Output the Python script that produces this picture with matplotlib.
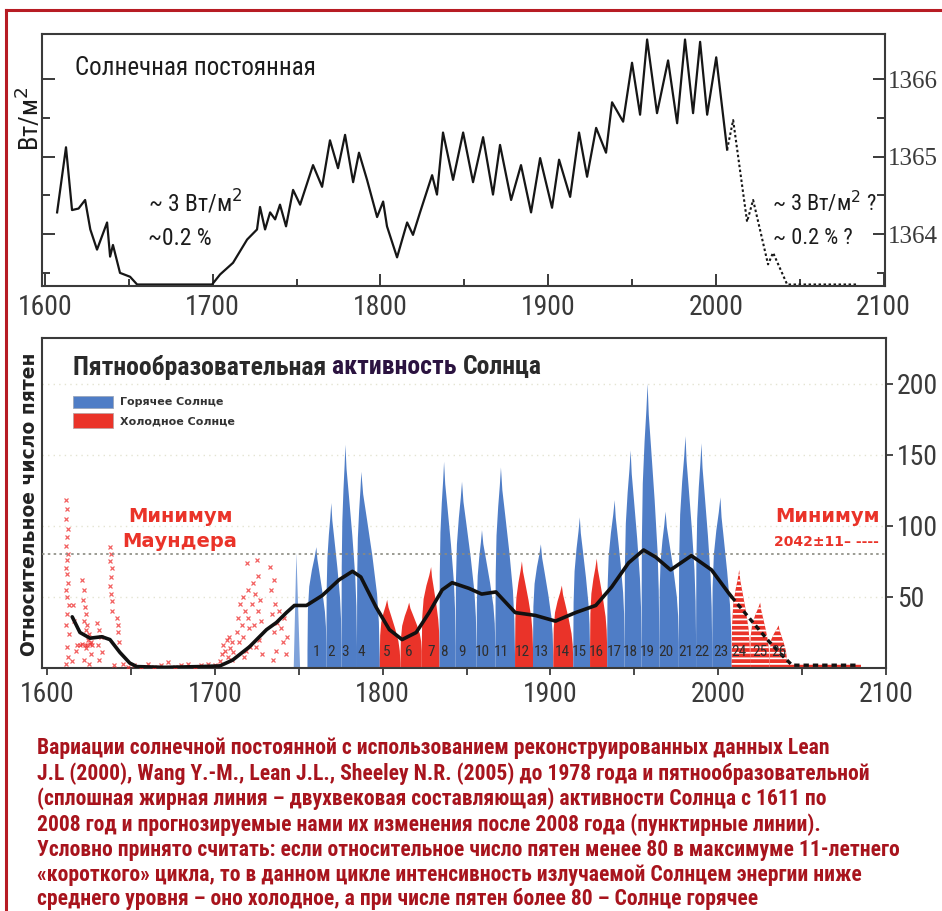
import matplotlib
matplotlib.use('Agg')
import matplotlib.pyplot as plt
import numpy as np
from matplotlib.lines import Line2D
from matplotlib.patches import Polygon, Rectangle

NARROW = ['Liberation Sans Narrow', 'Roboto Condensed', 'DejaVu Sans Condensed', 'Roboto',
          'DejaVu Sans']
SERIF = ['Liberation Serif', 'DejaVu Serif']
WIDE = ['DejaVu Sans']
plt.rcParams['font.family'] = NARROW
plt.rcParams['hatch.linewidth'] = 1.3

# --- solar constant (TSI reconstruction), W/m2 ---
tsi_years = [1607.2, 1612.5, 1616.1, 1620.0, 1623.9, 1627.0, 1631.0, 1637.0, 1638.8, 1640.5,
             1644.7, 1650.7, 1654.9, 1699.6, 1704.4, 1712.1, 1720.5, 1726.4, 1728.2, 1731.2,
             1734.2, 1737.2, 1740.1, 1743.7, 1747.9, 1752.1, 1759.8, 1765.2, 1769.9, 1774.7,
             1778.9, 1783.7, 1787.2, 1792.0, 1798.0, 1801.6, 1803.9, 1809.9, 1815.9, 1819.4,
             1823.6, 1830.8, 1833.7, 1837.3, 1843.3, 1849.3, 1855.2, 1861.2, 1867.1, 1871.3,
             1877.9, 1883.8, 1889.8, 1895.2, 1902.3, 1906.5, 1913.1, 1918.4, 1923.2, 1928.6,
             1934.5, 1938.1, 1944.7, 1950.0, 1954.8, 1959.0, 1964.9, 1971.5, 1976.9, 1981.6,
             1986.4, 1990.6, 1994.8, 2000.2, 2006.7]
tsi_vals = [1364.28, 1365.12, 1364.31, 1364.33, 1364.44, 1364.06, 1363.80, 1364.15, 1363.71, 1363.86,
            1363.50, 1363.45, 1363.35, 1363.35, 1363.48, 1363.63, 1363.93, 1364.06, 1364.35, 1364.06,
            1364.28, 1364.19, 1364.38, 1364.10, 1364.57, 1364.38, 1364.89, 1364.61, 1365.21, 1364.85,
            1365.28, 1364.67, 1365.05, 1364.70, 1364.22, 1364.42, 1364.10, 1363.70, 1364.15, 1363.99,
            1364.28, 1364.76, 1364.51, 1365.31, 1364.70, 1365.31, 1364.67, 1365.25, 1364.51, 1365.15,
            1364.44, 1364.89, 1364.28, 1364.98, 1364.34, 1364.96, 1364.48, 1365.31, 1364.74, 1365.37,
            1365.05, 1365.70, 1365.45, 1366.21, 1365.54, 1366.51, 1365.56, 1366.24, 1365.43, 1366.51,
            1365.56, 1366.48, 1365.54, 1366.28, 1365.09]
tsi_fc_years = [2006.7, 2010.3, 2018.6, 2022.2, 2031.1, 2034.1, 2042.5, 2084.8]
tsi_fc_vals = [1365.09, 1365.47, 1364.16, 1364.44, 1363.61, 1363.76, 1363.35, 1363.35]

# --- sunspot cycles ---
cycle_no = list(range(1, 27))
cycle_start = [1755.2, 1766.5, 1775.5, 1784.7, 1798.3, 1810.6, 1823.3, 1833.9, 1843.5, 1856.0,
               1867.2, 1878.9, 1889.6, 1901.7, 1913.6, 1923.6, 1933.8, 1944.2, 1954.3, 1964.9,
               1976.5, 1986.8, 1996.4, 2008.0, 2019.0, 2030.5]
cycle_end = cycle_start[1:] + [2041.0]
cycle_peak_year = [1760.5, 1769.4, 1777.8, 1787.3, 1802.7, 1815.8, 1828.9, 1836.6, 1847.3, 1859.2,
                   1870.5, 1883.0, 1894.3, 1906.8, 1917.5, 1927.6, 1938.3, 1947.8, 1957.9, 1968.6,
                   1980.5, 1990.0, 2001.3, 2012.5, 2025.0, 2036.0]
cycle_peak = [85, 116, 157, 138, 48, 46, 71, 145, 131, 97,
              141, 75, 87, 58, 106, 77, 118, 153, 200, 110,
              163, 158, 120, 69, 46, 30]
cycle_floor = [12, 15, 14, 15, 6, 3, 12, 14, 15, 12,
               15, 8, 14, 8, 6, 12, 14, 18, 15, 18,
               18, 18, 14, 4, 6, 4]
floor_end = cycle_floor[1:] + [3]
forecast_from = 24          # cycles from 24 on are the forecast
threshold = 80

# isolated peak around 1749
early_spike_year = 1748.6
early_spike_val = 81

# forecast tail of the grand minimum
tail_years = [2040.5, 2085.0]
tail_val = 3

# 11-year filtered curve (bicentennial component)
trend_years = [1615.0, 1619.6, 1625.6, 1632.7, 1637.5, 1643.4, 1649.3, 1653.5, 1670.0, 1691.0,
               1703.0, 1710.6, 1720.7, 1730.8, 1736.7, 1742.7, 1747.4, 1754.6, 1764.0, 1774.0,
               1782.0, 1787.0, 1796.0, 1804.0, 1811.6, 1820.0, 1827.7, 1835.5, 1841.4, 1851.5,
               1859.0, 1867.5, 1879.0, 1891.0, 1903.0, 1915.0, 1927.0, 1936.5, 1946.6, 1955.5,
               1962.7, 1971.6, 1984.0, 1996.0, 2006.0, 2008.0]
trend_vals = [36, 25, 21, 22, 20, 11, 3.5, 1, 0.5, 1,
              1.5, 5.6, 15, 27, 32, 39, 44, 44, 51, 62,
              68, 64, 43, 27, 20, 25, 39, 55, 60, 56,
              52, 53.5, 39, 37, 33, 39, 44, 57, 74, 83,
              78, 69, 79, 69, 53, 50]
trend_fc_years = [2008.0, 2020.0, 2030.0, 2038.0, 2044.0, 2083.0]
trend_fc_vals = [50, 33, 19, 9, 2, 2]

# early telescopic observations (1610-1745)
spot_years = [1611.5, 1612, 1611, 1612.5, 1612, 1611.5, 1612.5, 1612, 1611, 1612, 1612.5, 1611.5,
              1612, 1613, 1612, 1611.5, 1613, 1612, 1612.5, 1611,
              1615.5, 1616, 1617, 1615,
              1621, 1622, 1621.5, 1622.5, 1623, 1622, 1624, 1623, 1625, 1624.5, 1626, 1623.5,
              1626, 1622, 1625,
              1618, 1619.5, 1621, 1622.5, 1624, 1625.5, 1627,
              1630, 1631, 1632, 1630.5, 1632.5, 1631,
              1637.5, 1638, 1637.5, 1638.5, 1638, 1637.5, 1638, 1638.5, 1639,
              1641.5, 1642.5, 1642, 1643,
              1640, 1645, 1648, 1652, 1656, 1660, 1664, 1668, 1672, 1676, 1680, 1684, 1688,
              1692, 1696, 1700,
              1703, 1704, 1705, 1706, 1707, 1708, 1708.5, 1709, 1710, 1710.5, 1711,
              1713, 1714, 1714.5, 1715, 1716, 1716.5, 1717, 1718, 1718.5, 1719, 1719.5, 1720,
              1720.5, 1721, 1717.5,
              1722, 1723, 1723.5, 1724, 1725, 1725.5, 1726, 1726.5, 1727, 1727.5, 1728, 1724.5,
              1733, 1733.5, 1734, 1735, 1735.5, 1736, 1736.5, 1737, 1734.5,
              1738.5, 1739.5, 1740.5, 1741.5, 1742.5, 1743]
spot_vals = [118, 112, 105, 98, 92, 86, 80, 76, 70, 66, 60, 55,
             50, 44, 38, 30, 24, 15, 8, 3,
             44, 33, 12, 5,
             62, 55, 48, 43, 38, 33, 30, 27, 24, 20, 18, 14,
             10, 6, 3,
             16, 16, 17, 16, 16, 17, 16,
             32, 27, 22, 16, 11, 6,
             85, 80, 75, 70, 64, 58, 52, 47, 40,
             35, 30, 25, 18,
             2, 3, 1, 2, 1, 3, 1, 2, 4, 1, 2, 3, 1,
             2, 3, 2,
             5, 10, 16, 12, 20, 8, 22, 14, 18, 6, 11,
             25, 35, 18, 45, 30, 50, 22, 40, 12, 74, 55, 35,
             28, 15, 8,
             45, 60, 30, 52, 76, 40, 65, 20, 48, 33, 10, 15,
             71, 55, 38, 62, 25, 45, 12, 32, 6,
             40, 28, 18, 35, 10, 22]

caption = ("Вариации солнечной постоянной с использованием реконструированных данных Lean\n"
           "J.L (2000), Wang Y.-M., Lean J.L., Sheeley N.R. (2005) до 1978 года и пятнообразовательной\n"
           "(сплошная жирная линия – двухвековая составляющая) активности Солнца с 1611 по\n"
           "2008 год и прогнозируемые нами их изменения после 2008 года (пунктирные линии).\n"
           "Условно принято считать: если относительное число пятен менее 80 в максимуме 11-летнего\n"
           "«короткого» цикла, то в данном цикле интенсивность излучаемой Солнцем энергии ниже\n"
           "среднего уровня – оно холодное, а при числе пятен более 80 – Солнце горячее")

HOT = '#4f7dc6'
COLD = '#ea3329'
SPINE = '#3a3a3a'
CAPTION_RED = '#a8141d'

# outline of one cycle: steep rise, broad body, narrow top, longer decay
RISE_T = [0, 0.05, 0.2, 0.5, 0.8, 1]
RISE_F = [0, 0.4, 0.62, 0.78, 0.9, 1]
FALL_T = [0.1, 0.3, 0.6, 0.85, 0.95, 1]
FALL_F = [0.88, 0.75, 0.55, 0.35, 0.2, 0]


def cycle_outline(i):
    s, p, e = cycle_start[i], cycle_peak_year[i], cycle_end[i]
    pk, m0, m1 = cycle_peak[i], cycle_floor[i], floor_end[i]
    xs = [s] + [s + t * (p - s) for t in RISE_T] + [p + t * (e - p) for t in FALL_T] + [e]
    ys = [0] + [m0 + f * (pk - m0) for f in RISE_F] + [m1 + f * (pk - m1) for f in FALL_F] + [0]
    return np.column_stack([xs, ys])


fig = plt.figure(figsize=(9.42, 9.11), dpi=100)

# red frame
fig.add_artist(Line2D([0.0064, 0.0064], [0, 0.989], color='#b71c24', lw=2.2))
fig.add_artist(Line2D([0.0064, 1.0], [0.989, 0.989], color='#b71c24', lw=2.2))

# ---------------- top panel ----------------
ax1 = fig.add_axes([0.0446, 0.686, 0.895, 0.2766])
ax1.plot(tsi_years, tsi_vals, color='#161616', lw=1.6, solid_joinstyle='round')
ax1.plot(tsi_fc_years, tsi_fc_vals, color='#161616', lw=1.5, linestyle=(0, (1.2, 1.2)))
ax1.set_xlim(1598.2, 2100.9)
ax1.set_ylim(1363.33, 1366.58)

ax1.set_xticks(range(1600, 2101, 100))
ax1.set_xticks(range(1650, 2100, 100), minor=True)
ax1.set_yticks([1364, 1365, 1366])
ax1.set_yticks([1363.5, 1364.5, 1365.5], minor=True)
ax1.tick_params(axis='x', which='both', direction='in', top=False, colors=SPINE,
                labelsize=20, pad=6, width=1.4)
ax1.tick_params(axis='x', which='major', length=9)
ax1.tick_params(axis='x', which='minor', length=5)
ax1.tick_params(axis='y', which='both', direction='in', left=True, right=True,
                labelleft=False, labelright=True, colors=SPINE, width=1.4, pad=2)
ax1.tick_params(axis='y', which='major', length=9)
ax1.tick_params(axis='y', which='minor', length=6)
for lab in ax1.get_yticklabels():
    lab.set_family(SERIF)
    lab.set_fontsize(18)
for sp in ax1.spines.values():
    sp.set_color(SPINE)
    sp.set_linewidth(1.5)

ax1.text(0.039, 0.865, 'Солнечная постоянная', transform=ax1.transAxes,
         fontsize=18, color='#1c1c1c', va='center', ha='left')
ax1.text(0.126, 0.33, '~ 3 Вт/м$^2$', transform=ax1.transAxes,
         fontsize=17, color='#1c1c1c', va='center', ha='left')
ax1.text(0.126, 0.19, '~0.2 %', transform=ax1.transAxes,
         fontsize=17, color='#1c1c1c', va='center', ha='left')
ax1.text(0.866, 0.33, '~ 3 Вт/м$^2$ ?', transform=ax1.transAxes,
         fontsize=16, color='#1c1c1c', va='center', ha='left')
ax1.text(0.867, 0.19, '~ 0.2 % ?', transform=ax1.transAxes,
         fontsize=16, color='#1c1c1c', va='center', ha='left')
fig.text(0.031, 0.87, 'Вт/м$^2$', rotation=90, fontsize=19, color='#1c1c1c',
         ha='center', va='center')

# ---------------- bottom panel ----------------
ax2 = fig.add_axes([0.0446, 0.2667, 0.896, 0.3622])
ax2.set_xlim(1597, 2099)
ax2.set_ylim(0, 232)

for lvl in (50, 100, 150, 200):
    ax2.axhline(lvl, color='#e4e4d2', lw=1.0, linestyle=(0, (1, 3)), zorder=0)

ax2.add_patch(Polygon([[early_spike_year - 1.6, 0], [early_spike_year, early_spike_val],
                       [early_spike_year + 2.2, 0]], closed=True,
                      facecolor='#7fa2da', edgecolor='none', zorder=2))

for i, n in enumerate(cycle_no):
    pts = cycle_outline(i)
    if n >= forecast_from:
        ax2.add_patch(Polygon(pts, closed=True, facecolor=COLD, edgecolor='white',
                              hatch='---', linewidth=0, zorder=2))
    else:
        col = HOT if cycle_peak[i] > threshold else COLD
        ax2.add_patch(Polygon(pts, closed=True, facecolor=col, edgecolor='none',
                              linewidth=0, zorder=2))

ax2.fill_between(tail_years, 0, tail_val, facecolor=COLD, edgecolor='white',
                 hatch='---', linewidth=0, zorder=2)

ax2.plot(spot_years, spot_vals, linestyle='none', marker='x', markersize=3.2,
         markeredgewidth=0.9, color='#ee2c2c', alpha=0.75, zorder=3)

ax2.axhline(threshold, color='#8a8a80', lw=1.2, linestyle=(0, (1.5, 2)), zorder=3)

ax2.plot(trend_years, trend_vals, color='#111111', lw=2.6, solid_joinstyle='round',
         solid_capstyle='round', zorder=4)
ax2.plot(trend_fc_years, trend_fc_vals, color='#111111', lw=2.4, linestyle=(0, (1.6, 1.2)),
         zorder=4)

for i, n in enumerate(cycle_no):
    ax2.text(cycle_peak_year[i], 11, str(n), fontsize=11, color='#2e2e2e',
             ha='center', va='center', zorder=5)

ax2.set_xticks(range(1600, 2101, 100))
ax2.set_xticks(range(1650, 2100, 100), minor=True)
ax2.set_yticks([50, 100, 150, 200])
ax2.tick_params(axis='x', which='both', direction='out', length=5, width=1.3,
                colors=SPINE, labelsize=20, pad=4)
ax2.tick_params(axis='y', which='both', direction='out', length=5, width=1.3,
                left=False, right=True, labelleft=False, labelright=True,
                colors=SPINE, labelsize=20, pad=3)
for sp in ax2.spines.values():
    sp.set_color(SPINE)
    sp.set_linewidth(1.5)

ax2.text(0.037, 0.912, 'Пятнообразовательная ', transform=ax2.transAxes,
         fontsize=18.5, fontweight='bold', color='#2a2a2a', va='center', ha='left')
title_part = ax2.texts[-1]
fig.canvas.draw()
bb = title_part.get_window_extent().transformed(ax2.transAxes.inverted())
ax2.text(bb.x1, 0.912, 'активность ', transform=ax2.transAxes,
         fontsize=18.5, fontweight='bold', color='#2b1340', va='center', ha='left')
bb2 = ax2.texts[-1].get_window_extent(renderer=fig.canvas.get_renderer()).transformed(
    ax2.transAxes.inverted())
ax2.text(bb2.x1, 0.912, 'Солнца', transform=ax2.transAxes,
         fontsize=18.5, fontweight='bold', color='#2a2a2a', va='center', ha='left')

ax2.add_patch(Rectangle((0.037, 0.788), 0.047, 0.036, transform=ax2.transAxes,
                        facecolor=HOT, edgecolor='#9aa6bb', lw=0.6, zorder=5))
ax2.add_patch(Rectangle((0.037, 0.727), 0.047, 0.046, transform=ax2.transAxes,
                        facecolor=COLD, edgecolor='#c0a0a0', lw=0.6, zorder=5))
ax2.text(0.092, 0.806, 'Горячее Солнце', transform=ax2.transAxes, family=WIDE,
         fontsize=8, fontweight='bold', color='#333333', va='center')
ax2.text(0.092, 0.748, 'Холодное Солнце', transform=ax2.transAxes, family=WIDE,
         fontsize=8, fontweight='bold', color='#333333', va='center')

ax2.text(0.1635, 0.458, 'Минимум', transform=ax2.transAxes, family=WIDE,
         fontsize=14, fontweight='bold', color=COLD, ha='center', va='center')
ax2.text(0.1635, 0.385, 'Маундера', transform=ax2.transAxes, family=WIDE,
         fontsize=14, fontweight='bold', color=COLD, ha='center', va='center')
ax2.text(0.931, 0.458, 'Минимум', transform=ax2.transAxes, family=WIDE,
         fontsize=14, fontweight='bold', color=COLD, ha='center', va='center')
ax2.text(0.929, 0.382, '2042±11– ----', transform=ax2.transAxes, family=WIDE,
         fontsize=10, fontweight='bold', color=COLD, ha='center', va='center')

fig.text(0.031, 0.446, 'Относительное число пятен', rotation=90, family=WIDE,
         fontsize=13.5, fontweight='bold', color='#222222', ha='center', va='center')

fig.text(0.039, 0.191, caption, fontsize=15.6, fontweight='bold', color=CAPTION_RED,
         ha='left', va='top', linespacing=1.17)

fig.savefig('out.png', dpi=100)
